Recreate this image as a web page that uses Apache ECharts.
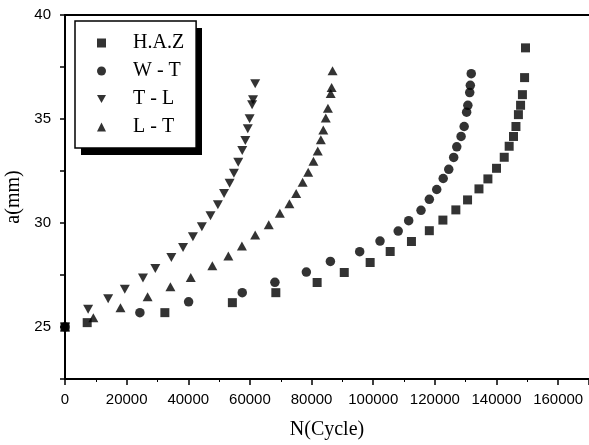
<!DOCTYPE html>
<html>
<head>
<meta charset="utf-8">
<script src="https://cdn.jsdelivr.net/npm/echarts@6/dist/echarts.min.js"></script>
<style>
html,body{margin:0;padding:0;background:#fff;}
#chart{width:589px;height:445px;}
</style>
</head>
<body>
<div id="chart"></div>
<script>
// ---- data ----
var seriesNames = ['H.A.Z', 'W - T', 'T - L', 'L - T'];

var hazN = [0, 7200, 32400, 54300, 68400, 81800, 90600, 99000, 105500, 112400, 118200, 122600, 126800, 130600, 134300, 137200, 140000, 142500, 144100, 145500, 146300, 147100, 147800, 148400, 149100, 149400];
var hazA = [25, 25.21, 25.69, 26.17, 26.65, 27.14, 27.62, 28.10, 28.63, 29.11, 29.63, 30.14, 30.63, 31.11, 31.64, 32.12, 32.63, 33.16, 33.69, 34.16, 34.64, 35.21, 35.66, 36.17, 36.99, 38.42];

var wtN = [0, 24300, 40100, 57500, 68100, 78300, 86100, 95600, 102200, 108100, 111500, 115500, 118200, 120600, 122700, 124500, 126100, 127100, 128500, 129500, 130300, 130700, 131300, 131500, 131800];
var wtA = [25, 25.69, 26.21, 26.65, 27.15, 27.64, 28.15, 28.62, 29.13, 29.61, 30.11, 30.61, 31.14, 31.61, 32.14, 32.58, 33.15, 33.66, 34.16, 34.64, 35.33, 35.66, 36.27, 36.62, 37.18];

var tlN = [0, 7500, 14000, 19400, 25300, 29300, 34500, 38300, 41500, 44400, 47200, 49600, 51600, 53400, 54800, 56200, 57500, 58500, 59300, 59900, 60700, 61000, 61700];
var tlA = [25, 25.85, 26.36, 26.82, 27.35, 27.81, 28.34, 28.82, 29.34, 29.82, 30.35, 30.88, 31.42, 31.91, 32.39, 32.92, 33.49, 33.97, 34.53, 35.01, 35.69, 35.93, 36.70];

var ltN = [0, 9200, 18000, 26800, 34200, 40800, 47800, 53000, 57400, 61700, 66100, 69700, 72800, 75000, 77100, 78900, 80600, 82000, 83000, 83800, 84600, 85300, 86200, 86500, 86800];
var ltA = [25, 25.45, 25.93, 26.45, 26.93, 27.38, 27.94, 28.41, 28.89, 29.42, 29.92, 30.47, 30.92, 31.42, 31.96, 32.44, 32.97, 33.46, 34.00, 34.47, 35.05, 35.52, 36.22, 36.52, 37.32];

var xTickLabels = ['0', '20000', '40000', '60000', '80000', '100000', '120000', '140000', '160000'];
var yTickLabels = ['25', '30', '35', '40'];

function zip(xs, ys) { return xs.map(function (x, i) { return [x, ys[i]]; }); }

var chart = echarts.init(document.getElementById('chart'), null, {renderer: 'canvas'});

var labelFont = {fontFamily: 'Liberation Sans, Arial, sans-serif', fontSize: 15, color: '#000'};
var serif = 'Liberation Serif, Times New Roman, serif';

var option = {
  backgroundColor: '#fff',
  animation: false,
  grid: {left: 65, right: 0, top: 15, bottom: 66, containLabel: false, outerBoundsMode: 'none'},
  legend: {
    orient: 'vertical',
    left: 75, top: 21,
    padding: [12, 12, 11, 22],
    backgroundColor: '#fff',
    borderColor: '#000',
    borderWidth: 1.5,
    borderRadius: 0,
    itemWidth: 9, itemHeight: 9,
    itemGap: 8,
    z: 10,
    textStyle: {fontFamily: serif, fontSize: 20, color: '#000', lineHeight: 20, padding: [0, 0, 0, 22]},
    data: seriesNames
  },
  graphic: [{
    type: 'rect', z: 1, silent: true,
    shape: {x: 81, y: 28, width: 121, height: 127},
    style: {fill: '#000'}
  }],
  xAxis: [{
    type: 'value', min: 0, max: 170000, interval: 20000,
    name: 'N(Cycle)', nameLocation: 'middle', nameGap: 41,
    nameTextStyle: {fontFamily: serif, fontSize: 20, color: '#000'},
    axisLine: {show: true, onZero: false, lineStyle: {color: '#000', width: 2}},
    axisTick: {show: true, length: 6, lineStyle: {color: '#000', width: 1.5}},
    minorTick: {show: true, splitNumber: 2, length: 3, lineStyle: {color: '#000', width: 1}},
    splitLine: {show: false},
    axisLabel: Object.assign({margin: 13, showMaxLabel: false, formatter: function (v) {
      var s = String(v); return xTickLabels.indexOf(s) >= 0 ? s : '';
    }}, labelFont)
  }, {
    type: 'value', min: 0, max: 170000, position: 'top',
    axisLine: {show: true, onZero: false, lineStyle: {color: '#000', width: 2}},
    axisTick: {show: false}, axisLabel: {show: false}, splitLine: {show: false}
  }],
  yAxis: {
    type: 'value', min: 22.5, max: 40, interval: 2.5,
    name: 'a(mm)', nameLocation: 'middle', nameGap: 38,
    nameTextStyle: {fontFamily: serif, fontSize: 20, color: '#000'},
    axisLine: {show: true, onZero: false, lineStyle: {color: '#000', width: 2}},
    axisTick: {show: true, length: 5, lineStyle: {color: '#000', width: 1.5}},
    splitLine: {show: false},
    axisLabel: Object.assign({margin: 14, formatter: function (v) {
      var s = String(v); return yTickLabels.indexOf(s) >= 0 ? s : '';
    }}, labelFont)
  },
  series: [{
    name: seriesNames[0], type: 'scatter', symbol: 'rect', symbolSize: 9,
    itemStyle: {color: '#000'}, data: zip(hazN, hazA)
  }, {
    name: seriesNames[1], type: 'scatter', symbol: 'circle', symbolSize: 9.5,
    itemStyle: {color: '#000'}, data: zip(wtN, wtA)
  }, {
    name: seriesNames[2], type: 'scatter', symbol: 'path://M0,0L10,0L5,9Z', symbolSize: [10, 9],
    itemStyle: {color: '#000'}, data: zip(tlN, tlA)
  }, {
    name: seriesNames[3], type: 'scatter', symbol: 'triangle', symbolSize: [10, 9],
    itemStyle: {color: '#000'}, data: zip(ltN, ltA)
  }]
};
chart.setOption(option);
</script>
</body>
</html>
